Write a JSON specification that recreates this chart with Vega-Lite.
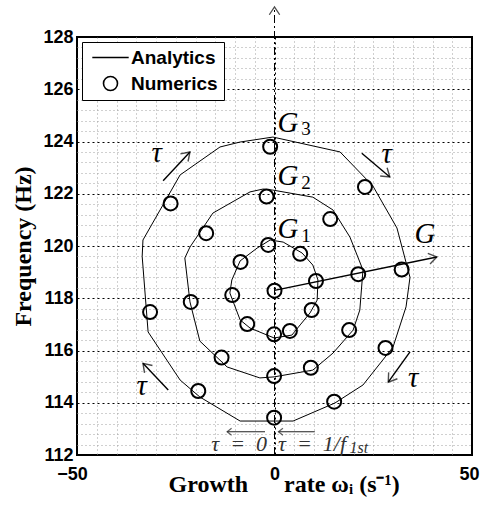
{
  "$schema": "https://vega.github.io/schema/vega-lite/v6.json",
  "width": 395,
  "height": 418,
  "autosize": "none",
  "padding": {"left": 77, "top": 37, "right": 8, "bottom": 57},
  "background": "white",
  "config": {
    "view": {"stroke": "black", "strokeWidth": 2},
    "axis": {
      "labelFont": "Liberation Sans", "labelFontWeight": "bold", "labelFontSize": 18, "labelColor": "black", "labelFlush": false,
      "titleFont": "Liberation Serif", "titleFontWeight": "bold", "titleFontSize": 24, "titleColor": "black"
    }
  },
  "datasets": {
    "curves": [
      {"ring": "G3", "i": 0, "x": -0.4, "y": 124.17}, {"ring": "G3", "i": 1, "x": 16.6, "y": 123.6},
      {"ring": "G3", "i": 2, "x": 24.9, "y": 122.3}, {"ring": "G3", "i": 3, "x": 31.0, "y": 120.69},
      {"ring": "G3", "i": 4, "x": 34.3, "y": 118.8}, {"ring": "G3", "i": 5, "x": 33.3, "y": 117.67},
      {"ring": "G3", "i": 6, "x": 30.0, "y": 116.13}, {"ring": "G3", "i": 7, "x": 22.4, "y": 114.68},
      {"ring": "G3", "i": 8, "x": 15.3, "y": 113.99}, {"ring": "G3", "i": 9, "x": 4.7, "y": 113.3},
      {"ring": "G3", "i": 10, "x": -8.7, "y": 113.3}, {"ring": "G3", "i": 11, "x": -18.9, "y": 114.22},
      {"ring": "G3", "i": 12, "x": -23.9, "y": 114.87}, {"ring": "G3", "i": 13, "x": -32.0, "y": 116.71},
      {"ring": "G3", "i": 14, "x": -33.5, "y": 119.6}, {"ring": "G3", "i": 15, "x": -33.3, "y": 120.23},
      {"ring": "G3", "i": 16, "x": -23.9, "y": 122.72}, {"ring": "G3", "i": 17, "x": -13.8, "y": 123.79},
      {"ring": "G3", "i": 18, "x": -8.7, "y": 123.98}, {"ring": "G3", "i": 19, "x": -0.4, "y": 124.17},
      {"ring": "G2", "i": 0, "x": -0.4, "y": 122.14}, {"ring": "G2", "i": 1, "x": 9.7, "y": 121.87},
      {"ring": "G2", "i": 2, "x": 14.8, "y": 121.38}, {"ring": "G2", "i": 3, "x": 19.1, "y": 120.34},
      {"ring": "G2", "i": 4, "x": 22.4, "y": 119.08}, {"ring": "G2", "i": 5, "x": 21.6, "y": 117.55},
      {"ring": "G2", "i": 6, "x": 19.9, "y": 116.78}, {"ring": "G2", "i": 7, "x": 14.8, "y": 115.9},
      {"ring": "G2", "i": 8, "x": 9.7, "y": 115.25}, {"ring": "G2", "i": 9, "x": -0.1, "y": 114.99},
      {"ring": "G2", "i": 10, "x": -3.7, "y": 114.95}, {"ring": "G2", "i": 11, "x": -12.0, "y": 115.37},
      {"ring": "G2", "i": 12, "x": -18.9, "y": 116.36}, {"ring": "G2", "i": 13, "x": -21.4, "y": 117.86},
      {"ring": "G2", "i": 14, "x": -22.7, "y": 119.54}, {"ring": "G2", "i": 15, "x": -21.4, "y": 119.96},
      {"ring": "G2", "i": 16, "x": -15.6, "y": 121.26}, {"ring": "G2", "i": 17, "x": -6.2, "y": 122.07},
      {"ring": "G2", "i": 18, "x": -2.9, "y": 122.18}, {"ring": "G2", "i": 19, "x": -0.4, "y": 122.14},
      {"ring": "G1", "i": 0, "x": -1.1, "y": 120.23}, {"ring": "G1", "i": 1, "x": 2.2, "y": 120.15},
      {"ring": "G1", "i": 2, "x": 7.0, "y": 119.73}, {"ring": "G1", "i": 3, "x": 9.7, "y": 119.27},
      {"ring": "G1", "i": 4, "x": 11.0, "y": 118.7}, {"ring": "G1", "i": 5, "x": 10.8, "y": 117.93},
      {"ring": "G1", "i": 6, "x": 9.0, "y": 117.44}, {"ring": "G1", "i": 7, "x": 6.5, "y": 116.98},
      {"ring": "G1", "i": 8, "x": 4.4, "y": 116.59}, {"ring": "G1", "i": 9, "x": -0.1, "y": 116.48},
      {"ring": "G1", "i": 10, "x": -6.2, "y": 116.86}, {"ring": "G1", "i": 11, "x": -8.7, "y": 117.17},
      {"ring": "G1", "i": 12, "x": -11.3, "y": 118.2}, {"ring": "G1", "i": 13, "x": -10.8, "y": 118.7},
      {"ring": "G1", "i": 14, "x": -8.7, "y": 119.43}, {"ring": "G1", "i": 15, "x": -4.4, "y": 119.92},
      {"ring": "G1", "i": 16, "x": -1.1, "y": 120.23}
    ],
    "points": [
      {"series": "Numerics", "x": -1.1, "y": 123.8}, {"series": "Numerics", "x": 22.9, "y": 122.26},
      {"series": "Numerics", "x": 32.2, "y": 119.1}, {"series": "Numerics", "x": 28.1, "y": 116.1},
      {"series": "Numerics", "x": 15.1, "y": 114.04}, {"series": "Numerics", "x": -0.1, "y": 113.43},
      {"series": "Numerics", "x": -19.3, "y": 114.45}, {"series": "Numerics", "x": -31.5, "y": 117.47},
      {"series": "Numerics", "x": -26.3, "y": 121.63},
      {"series": "Numerics", "x": -2.0, "y": 121.89}, {"series": "Numerics", "x": 14.1, "y": 121.03},
      {"series": "Numerics", "x": 21.2, "y": 118.92}, {"series": "Numerics", "x": 18.9, "y": 116.78},
      {"series": "Numerics", "x": 9.2, "y": 115.34}, {"series": "Numerics", "x": -0.1, "y": 115.02},
      {"series": "Numerics", "x": -13.4, "y": 115.73}, {"series": "Numerics", "x": -21.2, "y": 117.86},
      {"series": "Numerics", "x": -17.3, "y": 120.49},
      {"series": "Numerics", "x": -1.6, "y": 120.04}, {"series": "Numerics", "x": 6.5, "y": 119.7},
      {"series": "Numerics", "x": 10.5, "y": 118.66}, {"series": "Numerics", "x": 9.4, "y": 117.55},
      {"series": "Numerics", "x": 3.9, "y": 116.75}, {"series": "Numerics", "x": -0.1, "y": 116.62},
      {"series": "Numerics", "x": -6.9, "y": 117.01}, {"series": "Numerics", "x": -10.7, "y": 118.12},
      {"series": "Numerics", "x": -8.6, "y": 119.39},
      {"series": "Numerics", "x": 0, "y": 118.29}
    ],
    "axisline": [{"x": 0, "y": 112, "y2": 129.15}],
    "arrows": [
      {"x": 0, "y": 118.3, "x2": 41.1, "y2": 119.58, "angle": 78},
      {"x": -28.2, "y": 122.5, "x2": -21.4, "y2": 123.6, "angle": 45},
      {"x": 22.1, "y": 123.55, "x2": 29.2, "y2": 122.64, "angle": 130},
      {"x": 34.3, "y": 115.95, "x2": 28.8, "y2": 114.79, "angle": 216},
      {"x": -26.9, "y": 114.49, "x2": -33.3, "y2": 115.51, "angle": 317}
    ],
    "barrows": [
      {"x": -2.4, "y": 112.89, "x2": -12.0, "y2": 112.89, "angle": 270},
      {"x": 10.2, "y": 112.89, "x2": 1.0, "y2": 112.89, "angle": 270}
    ],
    "labels": [
      {"t": "τ", "x": -29.8, "y": 123.23}, {"t": "τ", "x": 28.4, "y": 123.18},
      {"t": "τ", "x": 35.1, "y": 114.61}, {"t": "τ", "x": -33.6, "y": 114.3},
      {"t": "G", "x": 38.1, "y": 120.11}, {"t": "G", "x": 3.4, "y": 120.31},
      {"t": "G", "x": 3.4, "y": 122.33}, {"t": "G", "x": 3.4, "y": 124.36}
    ],
    "subs": [
      {"t": "1", "x": 8.0, "y": 120.17}, {"t": "2", "x": 8.0, "y": 122.2}, {"t": "3", "x": 8.0, "y": 124.23}
    ],
    "noteLeft": [{"t": "τ\u2002=\u20020", "x": -1.9, "y": 112.17}],
    "noteRight": [{"t": "τ\u2002=\u20021/f", "x": 0.9, "y": 112.17}],
    "notesub": [{"t": "1st", "x": 19.0, "y": 112.08}]
  },
  "resolve": {"axis": {"x": "independent", "y": "independent"}},
  "layer": [
    {
      "data": {"name": "curves"},
      "mark": {"type": "line", "color": "black", "strokeWidth": 1},
      "encoding": {
        "x": {"field": "x", "type": "quantitative", "scale": {"domain": [-50, 50], "nice": false, "zero": false},
          "axis": {"orient": "bottom", "values": [-45, -40, -35, -30, -25, -20, -15, -10, -5, 5, 10, 15, 20, 25, 30, 35, 40, 45],
            "grid": true, "gridColor": "#a0a0a0", "gridDash": [1, 3], "gridWidth": 1, "labels": false, "ticks": false, "domain": false, "title": null}},
        "y": {"field": "y", "type": "quantitative", "scale": {"domain": [112, 128], "nice": false, "zero": false},
          "axis": {"orient": "left", "values": [112.4, 112.8, 113.2, 113.6, 114.4, 114.8, 115.2, 115.6, 116.4, 116.8, 117.2, 117.6, 118.4, 118.8, 119.2, 119.6, 120.4, 120.8, 121.2, 121.6, 122.4, 122.8, 123.2, 123.6, 124.4, 124.8, 125.2, 125.6, 126.4, 126.8, 127.2, 127.6],
            "grid": true, "gridColor": "#a0a0a0", "gridDash": [1, 3], "gridWidth": 1, "labels": false, "ticks": false, "domain": false, "title": null}},
        "detail": {"field": "ring"},
        "order": {"field": "i", "type": "quantitative"}
      }
    },
    {
      "data": {"name": "axisline"},
      "mark": {"type": "rule", "color": "black", "strokeWidth": 1, "strokeDash": [8, 3, 2, 3]},
      "encoding": {
        "x": {"field": "x", "type": "quantitative", "axis": null},
        "y": {"field": "y", "type": "quantitative", "axis": null},
        "y2": {"field": "y2"}
      }
    },
    {
      "data": {"name": "axisline"},
      "mark": {"type": "point", "shape": "M-0.6,0.9L0,0L0.6,0.9", "size": 300, "filled": false, "color": "black", "strokeWidth": 1.3, "angle": 0},
      "encoding": {
        "x": {"field": "x", "type": "quantitative", "axis": null},
        "y": {"field": "y2", "type": "quantitative", "axis": null}
      }
    },
    {
      "data": {"name": "arrows"},
      "mark": {"type": "rule", "color": "black", "strokeWidth": 1.4},
      "encoding": {
        "x": {"field": "x", "type": "quantitative", "axis": null},
        "y": {"field": "y", "type": "quantitative", "axis": null},
        "x2": {"field": "x2"},
        "y2": {"field": "y2"}
      }
    },
    {
      "data": {"name": "arrows"},
      "mark": {"type": "point", "shape": "M-0.6,0.9L0,0L0.6,0.9", "size": 324, "filled": false, "color": "black", "strokeWidth": 1.4},
      "encoding": {
        "x": {"field": "x2", "type": "quantitative", "axis": null},
        "y": {"field": "y2", "type": "quantitative", "axis": null},
        "angle": {"field": "angle", "type": "quantitative", "scale": null}
      }
    },
    {
      "data": {"name": "barrows"},
      "mark": {"type": "rule", "color": "#222", "strokeWidth": 1.2},
      "encoding": {
        "x": {"field": "x", "type": "quantitative", "axis": null},
        "y": {"field": "y", "type": "quantitative", "axis": null},
        "x2": {"field": "x2"},
        "y2": {"field": "y2"}
      }
    },
    {
      "data": {"name": "barrows"},
      "mark": {"type": "point", "shape": "M-0.7,0.9L0,0L0.7,0.9", "size": 100, "filled": false, "color": "#222", "strokeWidth": 1.2},
      "encoding": {
        "x": {"field": "x2", "type": "quantitative", "axis": null},
        "y": {"field": "y2", "type": "quantitative", "axis": null},
        "angle": {"field": "angle", "type": "quantitative", "scale": null}
      }
    },
    {
      "data": {"name": "points"},
      "mark": {"type": "point", "filled": false, "color": "black", "strokeWidth": 2, "opacity": 1, "size": 196},
      "encoding": {
        "x": {"field": "x", "type": "quantitative",
          "axis": {"orient": "bottom", "values": [-50, 0, 50], "grid": true, "gridColor": "black", "gridDash": [2, 3], "gridWidth": 1,
            "ticks": false, "domain": false, "labelPadding": 10,
            "labelOffset": {"expr": "datum.value === 50 ? -3 : (datum.value === -50 ? -5 : 0)"},
            "title": "Growth\u2003\u2002rate ωᵢ (s⁻¹)", "titleY": 36, "titleX": 91,
            "titleAnchor": "start", "titleAlign": "left", "titleBaseline": "alphabetic"}},
        "y": {"field": "y", "type": "quantitative",
          "axis": {"orient": "left", "values": [112, 114, 116, 118, 120, 122, 124, 126, 128], "grid": true, "gridColor": "black", "gridDash": [2, 3], "gridWidth": 1,
            "ticks": false, "domain": false, "labelPadding": 4, "title": "Frequency (Hz)", "titleX": -47, "titleBaseline": "alphabetic"}},
        "shape": {"field": "series", "type": "nominal", "scale": {"domain": ["Analytics", "Numerics"], "range": ["M-2.6,0L2.6,0", "circle"]},
          "legend": {"title": null, "orient": "top-left", "offset": 5, "padding": 6, "fillColor": "white", "strokeColor": "black",
            "labelFont": "Liberation Sans", "labelFontWeight": "bold", "labelFontSize": 19, "labelColor": "black",
            "labelOffset": 11, "symbolOffset": 13, "symbolSize": 196,
            "symbolStrokeColor": "black", "symbolFillColor": "transparent", "symbolStrokeWidth": 1.6, "rowPadding": 5}}
      }
    },
    {
      "data": {"name": "labels"},
      "mark": {"type": "text", "font": "Liberation Serif", "fontStyle": "italic", "fontSize": 29, "align": "center", "baseline": "alphabetic", "color": "black"},
      "encoding": {
        "x": {"field": "x", "type": "quantitative", "axis": null},
        "y": {"field": "y", "type": "quantitative", "axis": null},
        "text": {"field": "t"}
      }
    },
    {
      "data": {"name": "subs"},
      "mark": {"type": "text", "font": "Liberation Serif", "fontSize": 19, "align": "center", "baseline": "alphabetic", "color": "black"},
      "encoding": {
        "x": {"field": "x", "type": "quantitative", "axis": null},
        "y": {"field": "y", "type": "quantitative", "axis": null},
        "text": {"field": "t"}
      }
    },
    {
      "data": {"name": "noteLeft"},
      "mark": {"type": "text", "font": "Liberation Serif", "fontStyle": "italic", "fontSize": 22, "align": "right", "baseline": "alphabetic", "color": "#333"},
      "encoding": {
        "x": {"field": "x", "type": "quantitative", "axis": null},
        "y": {"field": "y", "type": "quantitative", "axis": null},
        "text": {"field": "t"}
      }
    },
    {
      "data": {"name": "noteRight"},
      "mark": {"type": "text", "font": "Liberation Serif", "fontStyle": "italic", "fontSize": 22, "align": "left", "baseline": "alphabetic", "color": "#333"},
      "encoding": {
        "x": {"field": "x", "type": "quantitative", "axis": null},
        "y": {"field": "y", "type": "quantitative", "axis": null},
        "text": {"field": "t"}
      }
    },
    {
      "data": {"name": "notesub"},
      "mark": {"type": "text", "font": "Liberation Serif", "fontStyle": "italic", "fontSize": 16, "align": "left", "baseline": "alphabetic", "color": "#333"},
      "encoding": {
        "x": {"field": "x", "type": "quantitative", "axis": null},
        "y": {"field": "y", "type": "quantitative", "axis": null},
        "text": {"field": "t"}
      }
    }
  ]
}
